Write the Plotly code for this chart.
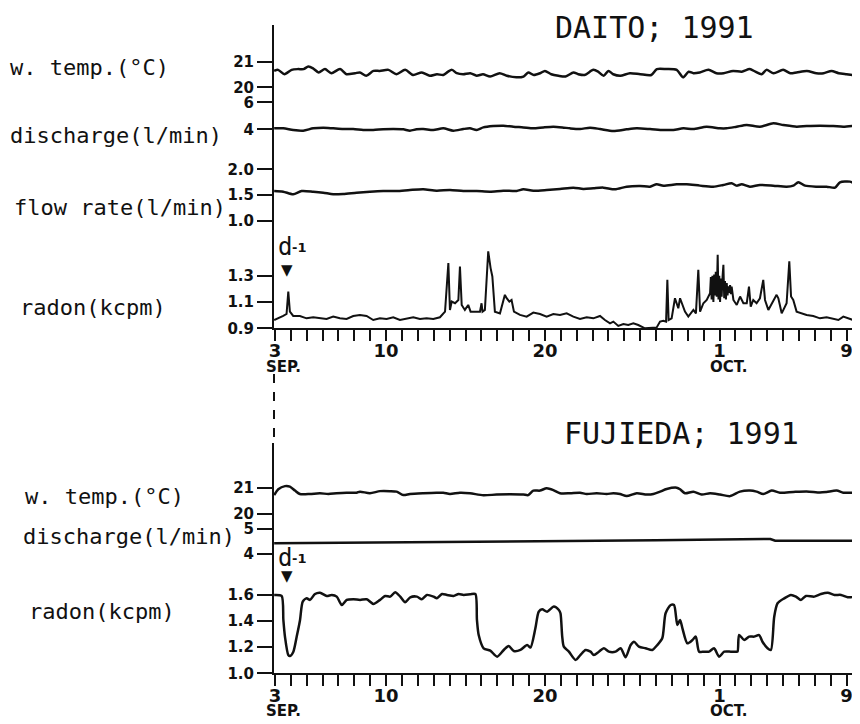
import plotly.graph_objects as go

# ---------------- DATA (day counted from 1 Sep 1991; 31 = 1 Oct) ----------------
daito_temp_day = [2.95,3.2,3.6,4.05,4.45,4.8,5.1,5.4,5.75,6.15,6.55,7.1,7.5,8.05,8.35,8.75,9.2,9.6,10.15,10.65,
                  11.2,11.7,12.25,12.75,13.2,13.6,13.9,14.15,14.45,14.85,15.3,15.7,16.1,16.55,17.15,17.6,18.2,18.65,
                  18.95,19.3,19.7,20.0,20.4,20.85,21.3,21.8,22.1,22.5,23.05,23.35,23.7,24.0,24.3,24.75,25.35,26.0,
                  26.7,27.05,27.65,28.3,28.7,29.05,29.35,29.75,30.3,30.8,31.25,31.85,32.4,32.9,33.25,33.65,33.95,
                  34.4,35.0,35.45,35.85,36.5,37.1,37.55,38.05,38.5,39.0,39.4,39.55]
daito_temp_val = [20.64,20.68,20.51,20.68,20.71,20.71,20.81,20.74,20.58,20.71,20.55,20.71,20.51,20.55,20.58,20.45,
                  20.64,20.64,20.68,20.51,20.68,20.48,20.58,20.45,20.51,20.48,20.61,20.68,20.55,20.51,20.55,20.45,
                  20.51,20.42,20.55,20.45,20.39,20.42,20.58,20.48,20.55,20.64,20.51,20.45,20.42,20.58,20.51,20.48,
                  20.68,20.61,20.45,20.64,20.51,20.45,20.55,20.51,20.48,20.71,20.71,20.68,20.39,20.61,20.55,20.58,
                  20.68,20.55,20.55,20.64,20.61,20.71,20.61,20.51,20.68,20.55,20.68,20.55,20.58,20.64,20.55,20.55,
                  20.64,20.55,20.51,20.48,20.58]

daito_dis_day = [2.95,3.52,4.15,4.78,5.41,6.04,6.67,7.30,7.93,8.56,9.19,9.82,10.45,11.08,11.50,11.92,12.34,12.97,
                 13.60,14.23,14.86,15.28,15.70,16.12,16.75,17.38,18.01,18.64,19.27,19.90,20.53,21.1,21.58,22.21,
                 22.84,23.47,24.31,25.15,25.78,26.62,27.46,28.09,28.72,29.34,30.18,31.02,31.44,32.07,32.70,33.54,
                 34.38,35.01,35.85,36.48,37.32,38.16,38.79,39.52]
daito_dis_val = [4.07,4.07,3.95,3.90,4.07,4.12,4.07,4.02,4.02,3.95,3.95,4.00,4.02,4.00,3.90,4.00,4.02,3.95,4.07,3.90,
                 4.02,4.07,3.95,4.14,4.24,4.27,4.19,4.14,4.07,4.14,4.19,4.14,4.07,4.02,4.12,4.02,3.87,4.00,4.07,4.02,
                 3.95,3.95,4.07,4.02,4.19,4.07,4.07,4.19,4.32,4.19,4.44,4.32,4.19,4.24,4.27,4.24,4.19,4.27]

daito_flow_day = [2.95,3.52,4.15,4.68,5.41,6.04,6.67,7.30,8.14,8.98,9.82,10.66,11.50,12.34,13.18,14.02,14.86,15.70,
                  16.54,17.38,18.22,18.64,19.27,20.11,20.95,21.79,22.42,23.05,23.68,24.41,25.15,25.99,26.62,27.04,
                  27.46,28.30,28.93,29.76,30.60,31.23,31.76,32.07,32.39,32.91,33.54,34.38,35.22,35.64,35.96,36.38,
                  37.11,37.74,38.27,38.58,39.21,39.55]
daito_flow_val = [1.578,1.565,1.513,1.578,1.565,1.545,1.513,1.519,1.545,1.565,1.578,1.578,1.597,1.61,1.584,1.597,
                  1.578,1.578,1.565,1.584,1.578,1.61,1.584,1.597,1.617,1.643,1.617,1.63,1.643,1.61,1.662,1.675,
                  1.662,1.708,1.682,1.708,1.708,1.682,1.662,1.695,1.727,1.682,1.708,1.662,1.695,1.682,1.662,1.682,
                  1.747,1.682,1.662,1.662,1.643,1.747,1.76,1.708]

daito_radon_day = [2.95,3.21,3.52,3.73,3.84,3.94,4.15,4.57,4.99,5.41,5.83,6.25,6.67,7.09,7.51,7.93,8.35,8.77,9.19,
                   9.61,10.03,10.45,10.87,11.29,11.71,12.13,12.55,12.97,13.39,13.71,13.92,14.02,14.13,14.34,14.55,
                   14.65,14.76,14.96,15.17,15.32,15.59,15.91,16.01,16.07,16.22,16.43,16.58,16.69,16.85,17.17,17.48,
                   17.59,17.76,17.90,18.05,18.43,18.85,19.27,19.69,20.11,20.53,20.95,21.37,21.79,22.21,22.63,23.05,
                   23.47,23.78,24.10,24.31,24.62,24.94,25.25,25.57,25.88,26.30,26.72,27.04,27.25,27.46,27.63,27.71,
                   27.79,27.98,28.19,28.40,28.51,28.67,28.82,29.03,29.35,29.51,29.66,29.77,29.98,30.19,
                   30.40,30.45,30.50,30.55,30.61,30.66,30.71,30.76,30.82,30.88,30.93,30.98,31.03,31.08,31.13,31.19,
                   31.24,31.29,31.34,31.40,31.45,31.50,31.56,31.61,31.66,31.71,31.76,31.87,
                   32.08,32.29,32.50,32.71,
                   32.85,32.96,33.12,33.33,33.54,33.75,33.86,34.07,34.38,34.59,34.70,34.91,35.22,35.39,35.50,35.64,
                   35.85,36.17,36.48,36.90,37.32,37.74,38.16,38.48,38.79,39.11,39.42,39.55]
daito_radon_val = [0.963,0.976,0.994,1.009,1.18,1.027,0.994,0.994,0.976,0.984,0.976,0.971,0.989,0.976,0.971,0.994,
                   1.002,0.994,0.963,0.976,0.971,0.984,0.963,0.971,0.984,0.971,0.976,0.971,0.984,1.027,1.397,1.04,
                   1.104,1.091,1.116,1.371,1.078,1.04,1.078,1.027,1.027,1.027,1.091,1.027,1.04,1.486,1.359,1.295,
                   1.027,1.014,1.155,1.129,1.104,1.116,1.027,1.002,0.989,1.02,1.009,0.989,1.009,1.002,1.014,0.989,
                   0.971,0.984,0.976,0.994,0.963,0.938,0.951,0.918,0.933,0.925,0.938,0.925,0.90,0.907,0.907,0.951,
                   0.958,0.951,1.269,0.963,0.976,1.129,1.053,1.129,1.078,1.027,0.989,1.04,1.014,1.346,1.027,1.091,
                   1.116,
                   1.167,1.29,1.12,1.30,1.10,1.31,1.15,1.33,1.14,1.461,1.12,1.30,1.10,1.28,1.14,1.30,
                   1.384,1.13,1.26,1.12,1.244,1.15,1.22,1.17,1.23,1.16,1.218,1.116,
                   1.078,1.142,1.091,1.091,
                   1.218,1.065,1.116,1.091,1.129,1.269,1.116,1.04,1.116,1.155,1.129,1.014,1.091,1.41,1.142,1.116,
                   1.027,1.014,1.002,0.994,0.976,0.984,0.969,0.963,0.989,0.976,0.963,0.938]

fuji_temp_day = [2.95,3.21,3.63,3.94,4.26,4.57,5.20,5.83,6.36,6.88,7.51,8.14,8.35,8.98,9.61,10.24,10.66,11.08,11.50,
                 12.34,13.18,13.60,14.02,14.65,15.28,16.12,16.96,17.80,18.64,18.95,19.27,19.69,20.11,20.53,20.95,
                 21.58,22.21,22.63,23.26,23.89,24.31,24.73,25.15,25.78,26.41,26.83,27.25,27.67,28.30,28.51,28.82,
                 29.35,29.87,30.40,31.03,31.66,32.28,32.91,33.33,33.75,34.28,34.80,35.64,36.48,37.32,37.74,38.37,
                 38.79,39.42]
fuji_temp_val = [20.72,20.94,21.06,21.04,20.89,20.76,20.76,20.79,20.76,20.79,20.81,20.81,20.85,20.79,20.87,20.87,
                 20.85,20.72,20.76,20.79,20.81,20.81,20.76,20.81,20.79,20.71,20.74,20.75,20.74,20.72,20.89,20.89,
                 20.98,20.91,20.79,20.79,20.81,20.76,20.79,20.76,20.79,20.76,20.68,20.79,20.74,20.76,20.85,20.95,
                 21.0,20.94,20.79,20.85,20.74,20.79,20.74,20.68,20.85,20.89,20.85,20.76,20.89,20.81,20.84,20.86,
                 20.82,20.84,20.89,20.81,20.81]

fuji_dis_day = [2.95, 8.0, 14.0, 21.0, 27.0, 31.0, 34.2, 34.5, 39.55]
fuji_dis_val = [4.43, 4.45, 4.47, 4.52, 4.55, 4.58, 4.60, 4.53, 4.53]

fuji_radon_day = [2.95,3.42,3.53,3.63,3.84,3.95,4.16,4.37,4.58,4.75,5.0,5.21,5.52,5.84,6.26,6.58,6.89,7.21,7.52,
                  7.94,8.36,8.78,9.20,9.62,9.94,10.26,10.57,10.89,11.20,11.52,11.94,12.25,12.57,12.99,13.20,13.52,
                  13.83,14.25,14.57,14.88,15.30,15.62,15.72,15.83,16.14,16.56,16.99,17.41,17.72,18.04,18.46,18.88,
                  19.09,19.40,19.61,19.83,20.14,20.56,20.88,20.98,21.09,21.19,21.51,21.93,22.24,22.56,22.87,23.08,
                  23.40,23.71,24.03,24.45,24.77,25.08,25.40,25.61,25.92,26.34,26.76,27.08,27.39,27.60,27.92,28.13,
                  28.34,28.51,28.66,28.97,29.29,29.50,29.71,30.02,30.34,30.65,30.97,31.29,31.71,32.02,32.13,32.23,
                  32.55,32.86,33.18,33.49,33.70,34.02,34.23,34.44,34.65,35.07,35.49,35.81,36.12,36.44,36.96,37.38,
                  37.81,38.23,38.65,39.07,39.49,39.55]
fuji_radon_val = [1.598,1.59,1.407,1.28,1.14,1.132,1.165,1.28,1.407,1.547,1.572,1.56,1.605,1.615,1.59,1.598,1.585,
                  1.521,1.56,1.565,1.56,1.565,1.529,1.56,1.59,1.585,1.618,1.585,1.542,1.58,1.585,1.565,1.598,1.585,
                  1.572,1.605,1.598,1.59,1.605,1.598,1.603,1.605,1.407,1.292,1.191,1.173,1.127,1.178,1.208,1.17,
                  1.178,1.216,1.196,1.343,1.47,1.488,1.47,1.509,1.483,1.458,1.28,1.203,1.165,1.102,1.14,1.178,1.165,
                  1.14,1.165,1.191,1.165,1.165,1.191,1.122,1.216,1.241,1.203,1.191,1.178,1.216,1.267,1.458,1.521,
                  1.521,1.369,1.407,1.343,1.229,1.254,1.28,1.165,1.165,1.165,1.191,1.127,1.165,1.165,1.165,1.165,
                  1.292,1.254,1.28,1.28,1.292,1.241,1.191,1.178,1.432,1.534,1.572,1.598,1.585,1.56,1.59,1.585,1.605,
                  1.615,1.598,1.598,1.58,1.58,1.56]

x_tick_days = list(range(3, 40))
x_tick_labels = {3: "3", 10: "10", 20: "20", 31: "1", 39: "9"}
month_labels = [("SEP.", 3), ("OCT.", 31)]

# ---------------- LAYOUT HELPERS (page pixel -> paper; page body has an 8px margin) ----------------
OFF = 8
W, H = 860 - OFF, 724 - OFF
def px(x): return (x - OFF) / W
def py(y): return 1 - (y - OFF) / H

INK = "#111111"
MONO = "DejaVu Sans Mono"
BOLD = dict(family="DejaVu Sans", size=15, color=INK, weight="bold")

fig = go.Figure()
line = dict(color=INK, width=2.5)
smooth = dict(color=INK, width=2.5, shape="spline", smoothing=0.7)

fig.add_trace(go.Scatter(x=daito_temp_day, y=daito_temp_val, xaxis="x", yaxis="y", mode="lines", line=smooth))
fig.add_trace(go.Scatter(x=daito_dis_day, y=daito_dis_val, xaxis="x", yaxis="y2", mode="lines", line=smooth))
fig.add_trace(go.Scatter(x=daito_flow_day, y=daito_flow_val, xaxis="x", yaxis="y3", mode="lines", line=smooth))
fig.add_trace(go.Scatter(x=daito_radon_day, y=daito_radon_val, xaxis="x", yaxis="y4", mode="lines",
                         line=dict(color=INK, width=2.0)))
fig.add_trace(go.Scatter(x=fuji_temp_day, y=fuji_temp_val, xaxis="x2", yaxis="y5", mode="lines", line=smooth))
fig.add_trace(go.Scatter(x=fuji_dis_day, y=fuji_dis_val, xaxis="x2", yaxis="y6", mode="lines", line=line))
fig.add_trace(go.Scatter(x=fuji_radon_day, y=fuji_radon_val, xaxis="x2", yaxis="y7", mode="lines", line=smooth))

xdom = [px(274), px(856)]
xcommon = dict(domain=xdom, range=[2.94, 39.59], tickmode="array", tickvals=x_tick_days,
               ticktext=[x_tick_labels.get(d, "") for d in x_tick_days],
               ticks="outside", ticklen=11, tickwidth=2, tickcolor=INK, automargin=False,
               ticklabelstandoff=-6,
               showline=True, linewidth=2, linecolor=INK, showgrid=False, zeroline=False,
               tickfont=dict(family="DejaVu Sans", size=18, color=INK, weight="bold"))

def yax(dom_px, rng, vals, texts, anchor):
    return dict(domain=[py(dom_px[1]), py(dom_px[0])], range=rng, tickmode="array", tickvals=vals,
                ticktext=texts, ticks="outside", ticklen=15, tickwidth=2, tickcolor=INK,
                showline=True, linewidth=2, linecolor=INK, showgrid=False, zeroline=False,
                anchor=anchor, tickfont=BOLD, automargin=False)

fig.update_layout(
    template="none",
    width=W, height=H, margin=dict(l=0, r=0, t=0, b=0, autoexpand=False),
    paper_bgcolor="white", plot_bgcolor="white", showlegend=False,
    xaxis=dict(**xcommon, anchor="y4"),
    xaxis2=dict(**xcommon, anchor="y7"),
    yaxis=yax((25, 95), [19.70, 22.43], [20, 21], ["20", "21"], "x"),
    yaxis2=yax((95, 150), [2.467, 6.54], [4, 6], ["4", "6"], "x"),
    yaxis3=yax((150, 240), [0.6245, 2.375], [1.0, 1.5, 2.0], ["1.0", "1.5", "2.0"], "x"),
    yaxis4=yax((240, 328.3), [0.9, 1.573], [0.9, 1.1, 1.3], ["0.9", "1.1", "1.3"], "x"),
    yaxis5=yax((443, 521), [19.734, 22.70], [20, 21], ["20", "21"], "x2"),
    yaxis6=yax((521, 575), [3.16, 5.32], [4, 5], ["4", "5"], "x2"),
    yaxis7=yax((575, 673.3), [1.0, 1.75], [1.0, 1.2, 1.4, 1.6], ["1.0", "1.2", "1.4", "1.6"], "x2"),
)

ann = []
def label(text, x, y, size=22, anchor="left", font_family=MONO, weight="normal"):
    ann.append(dict(text=text, x=px(x), y=py(y), xref="paper", yref="paper", xanchor=anchor,
                    yanchor="middle", showarrow=False,
                    font=dict(family=font_family, size=size, color=INK, weight=weight)))

label("DAITO; 1991", 553, 27, size=30)
label("FUJIEDA; 1991", 562, 433, size=30)
label("w. temp.(°C)", 8, 68)
label("discharge(l/min)", 8, 135)
label("flow rate(l/min)", 12, 207)
label("radon(kcpm)", 18, 308)
label("w. temp.(°C)", 23, 497)
label("discharge(l/min)", 21, 536)
label("radon(kcpm)", 27, 611)
for ty, tri in ((247, 270), (558, 576)):
    label("d", 276, ty, size=24)
    label("-1", 290, ty, size=13, font_family="DejaVu Sans", weight="bold")
    label("▼", 287, tri, size=15, anchor="center", font_family="DejaVu Sans")
# month names under the first and last-month tick labels
for (txt, day), ypos in [(m, 367) for m in month_labels] + [(m, 711) for m in month_labels]:
    ann.append(dict(text=txt, x=day, xref="x", y=py(ypos), yref="paper", xanchor="center", yanchor="middle",
                    xshift=9, showarrow=False,
                    font=dict(family="DejaVu Sans", size=15, color=INK, weight="bold")))
fig.update_layout(annotations=ann)

fig.add_shape(type="line", xref="paper", yref="paper", x0=px(274), x1=px(274), y0=py(374), y1=py(443),
              line=dict(color=INK, width=2, dash="dash"))

fig.write_html("out.html")
